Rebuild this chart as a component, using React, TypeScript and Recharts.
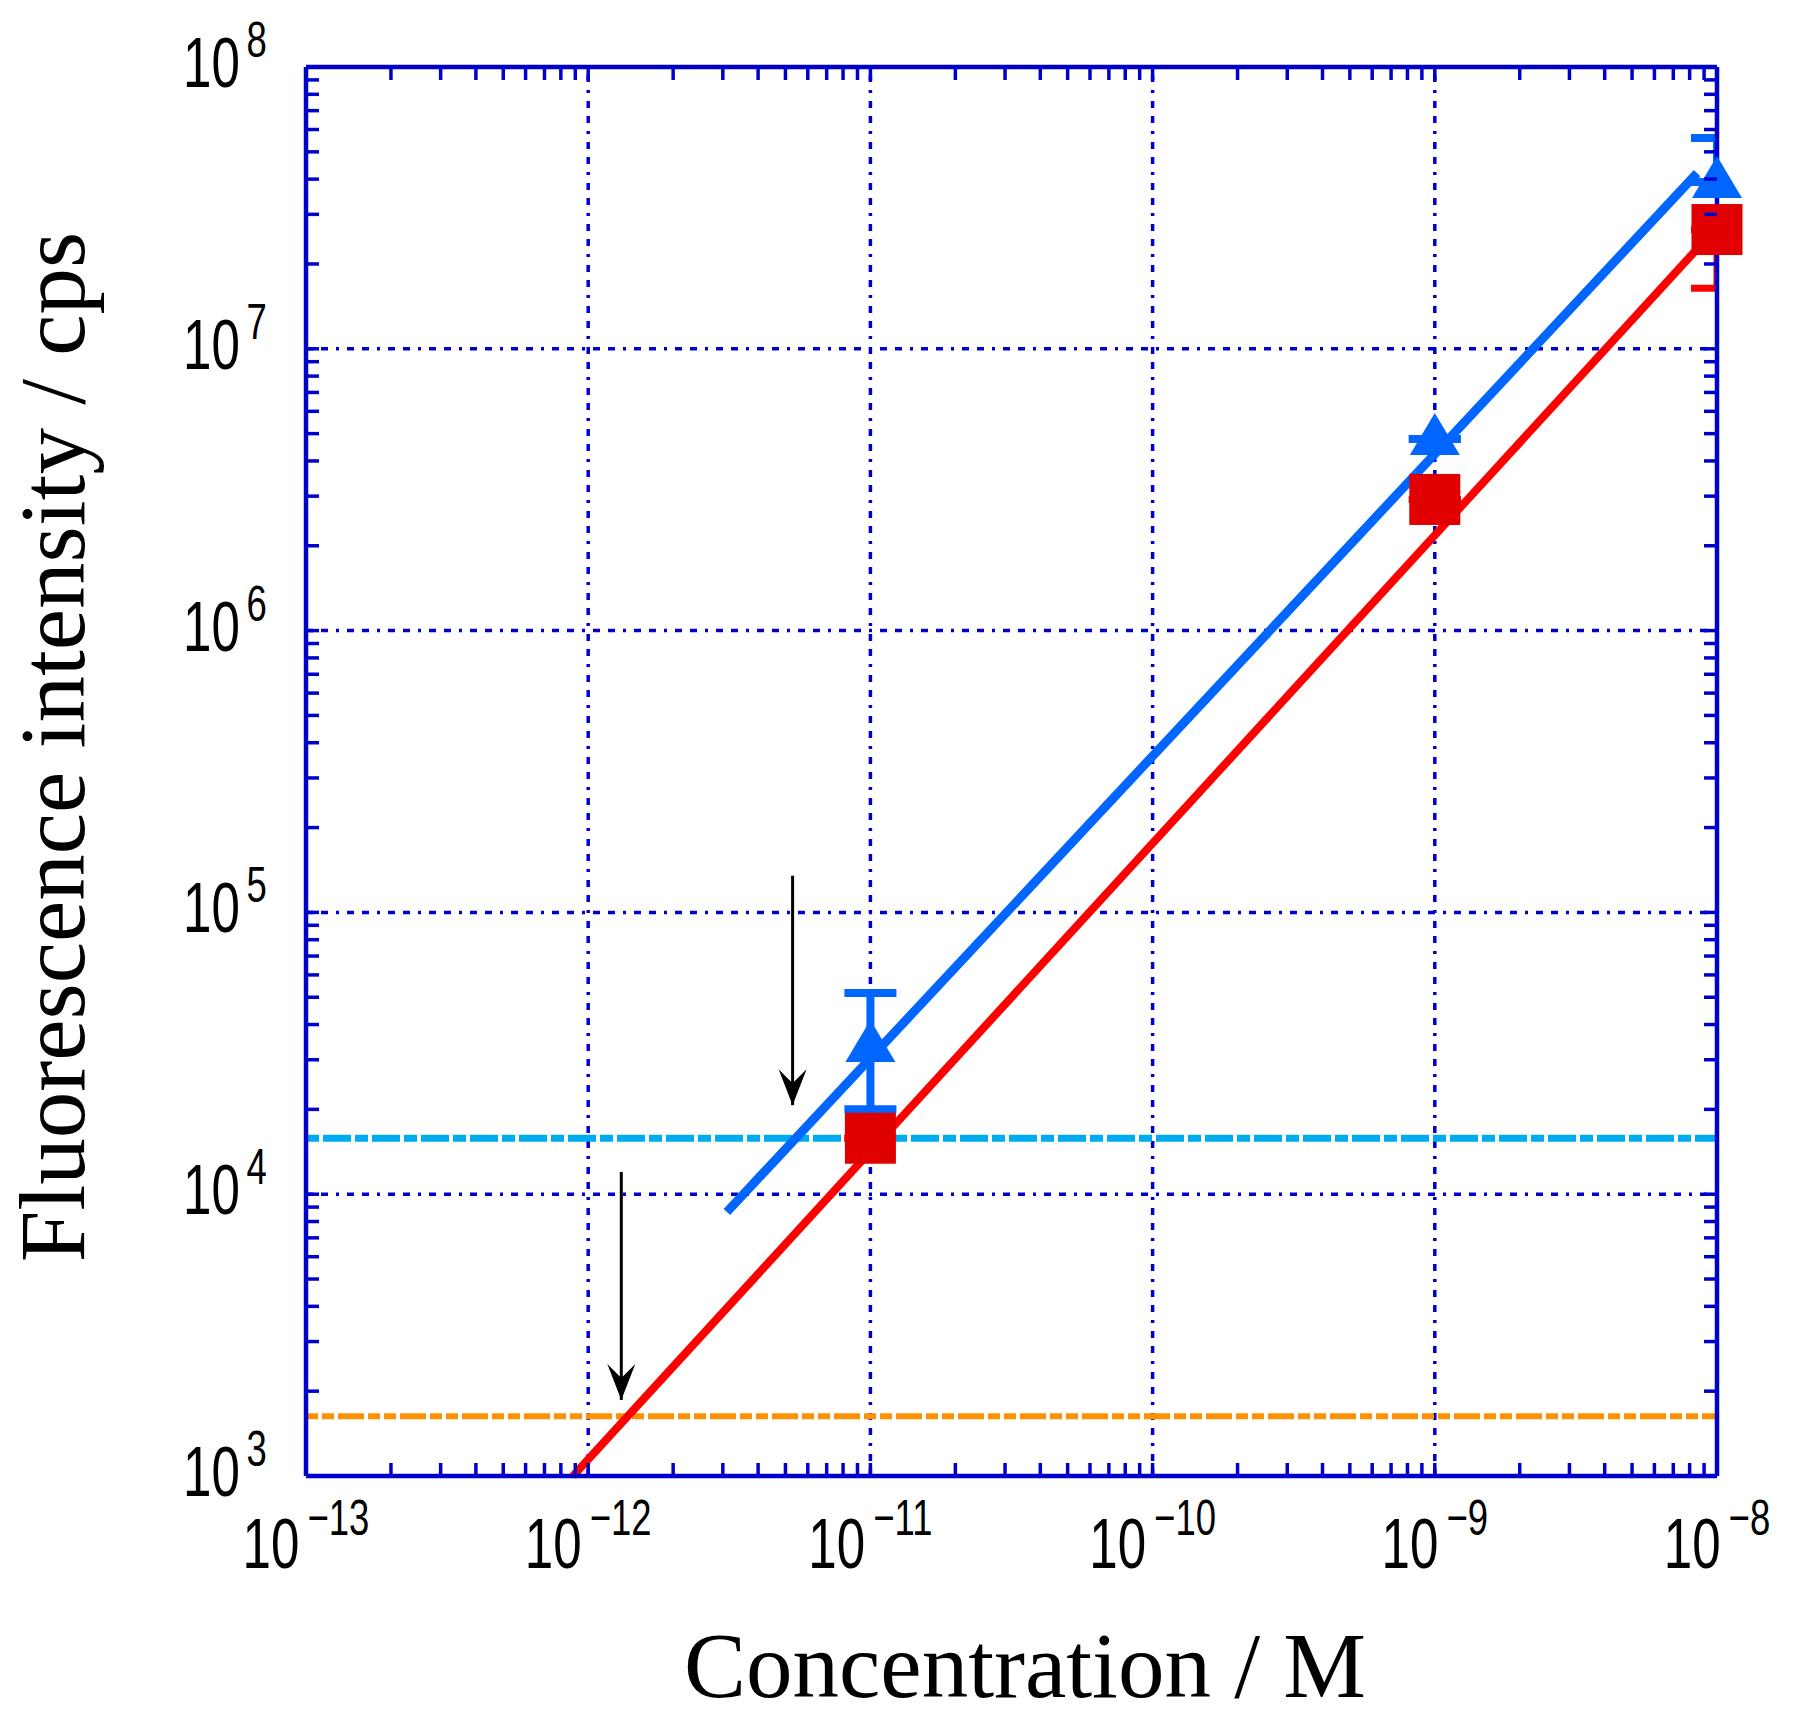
import React from 'react';
import * as Recharts from 'recharts';
import { ComposedChart, XAxis, YAxis, Scatter, Line, ReferenceLine, ErrorBar } from 'recharts';

// measured points (concentration in M, intensity in cps)
const concentration = [1e-11, 1e-9, 1e-8];
const blueIntensity = [3.36e4, 4.79e6, 3.91e7];
const blueLow = [2.0e4, 4.79e6, 3.91e7];
const blueHigh = [5.18e4, 4.79e6, 5.6e7];
const redIntensity = [1.58e4, 2.92e6, 2.65e7];
const redLow = [1.58e4, 2.92e6, 1.64e7];
const redHigh = [1.58e4, 2.92e6, 2.65e7];

// fitted lines
const blueFitX = [3.1e-12, 8.5e-9];
const blueFitY = [8.65e3, 4.2e7];
const redFitX = [8.83e-13, 1e-8];
const redFitY = [1e3, 2.7e7];

// detection limits
const blueLimit = 1.58e4;
const redLimit = 1.63e3;

// arrows pointing at the limits
const arrowX = [5.3e-12, 1.31e-12];
const arrowTop = [1.35e5, 1.2e4];
const arrowTip = [2.07e4, 1.86e3];

// axes
const xMajor = [1e-13, 1e-12, 1e-11, 1e-10, 1e-9, 1e-8];
const xExponents = ['\u221213', '\u221212', '\u221211', '\u221210', '\u22129', '\u22128'];
const yMajor = [1e3, 1e4, 1e5, 1e6, 1e7, 1e8];
const yExponents = ['3', '4', '5', '6', '7', '8'];
const minorSteps = [2, 3, 4, 5, 6, 7, 8, 9];

const FRAME = '#0000cc';
const BLUE = '#0066ff';
const RED = '#ff0000';
const SQUARE = '#e00000';
const CYAN = '#00aaee';
const ORANGE = '#ff9000';
const TICK_LEN = 13;
const SQUEEZE = 0.73;
const LABEL_FONT = "'Liberation Sans', Arial, sans-serif";
const TITLE_FONT = "'Liberation Serif', 'DejaVu Serif', serif";

const usePlotArea: undefined | (() => any) = (Recharts as any).usePlotArea;

const withMinor = (majors: number[]) => {
  const out: number[] = [];
  majors.forEach((m, i) => {
    out.push(m);
    if (i < majors.length - 1) minorSteps.forEach((s) => out.push(m * s));
  });
  return out;
};
const xTicks = withMinor(xMajor);
const yTicks = withMinor(yMajor);

const majorIndex = (v: number, majors: number[]) => majors.findIndex((m) => Math.abs(v / m - 1) < 1e-6);

const blueData = concentration.map((x, i) => ({
  x,
  y: blueIntensity[i],
  err: [blueIntensity[i] - blueLow[i], blueHigh[i] - blueIntensity[i]],
}));
const redData = concentration.map((x, i) => ({
  x,
  y: redIntensity[i],
  err: [redIntensity[i] - redLow[i], redHigh[i] - redIntensity[i]],
}));
const blueFit = blueFitX.map((x, i) => ({ x, y: blueFitY[i] }));
const redFit = redFitX.map((x, i) => ({ x, y: redFitY[i] }));
const arrowShafts = arrowX.map((x, i) => [
  { x, y: arrowTop[i] },
  { x, y: arrowTip[i] },
]);
const arrowTips = arrowX.map((x, i) => ({ x, y: arrowTip[i] }));

function BottomTick({ x, y, payload }: any) {
  const idx = majorIndex(payload.value, xMajor);
  return (
    <g>
      <line x1={x} y1={y} x2={x} y2={y - TICK_LEN} stroke={FRAME} strokeWidth={3.5} />
      {idx >= 0 && (
        <g transform={`translate(${x},${y + 92}) scale(${SQUEEZE},1)`}>
          <text x={0} y={0} textAnchor="middle" fontFamily={LABEL_FONT} fontSize={70} fill="#000">
            10
            <tspan dx={11} dy={-33} fontSize={50}>
              {xExponents[idx]}
            </tspan>
          </text>
        </g>
      )}
    </g>
  );
}

function TopTick({ x, y }: any) {
  return <line x1={x} y1={y} x2={x} y2={y + TICK_LEN} stroke={FRAME} strokeWidth={3.5} />;
}

function LeftTick({ x, y, payload }: any) {
  const idx = majorIndex(payload.value, yMajor);
  return (
    <g>
      <line x1={x} y1={y} x2={x + TICK_LEN} y2={y} stroke={FRAME} strokeWidth={3.5} />
      {idx >= 0 && (
        <g transform={`translate(183,${y + 20}) scale(${SQUEEZE},1)`}>
          <text x={0} y={0} textAnchor="start" fontFamily={LABEL_FONT} fontSize={70} fill="#000">
            10
            <tspan dx={9} dy={-30} fontSize={50}>
              {yExponents[idx]}
            </tspan>
          </text>
        </g>
      )}
    </g>
  );
}

function RightTick({ x, y }: any) {
  return <line x1={x} y1={y} x2={x - TICK_LEN} y2={y} stroke={FRAME} strokeWidth={3.5} />;
}

function TriangleMark({ cx, cy }: any) {
  if (cx == null || cy == null) return null;
  return <polygon points={`${cx},${cy - 26} ${cx - 25},${cy + 16} ${cx + 25},${cy + 16}`} fill={BLUE} />;
}

function SquareMark({ cx, cy }: any) {
  if (cx == null || cy == null) return null;
  return <rect x={cx - 25.5} y={cy - 25.5} width={51} height={51} fill={SQUARE} />;
}

function ArrowHead({ cx, cy }: any) {
  if (cx == null || cy == null) return null;
  return (
    <polygon
      points={`${cx},${cy} ${cx - 14},${cy - 36} ${cx},${cy - 22} ${cx + 14},${cy - 36}`}
      fill="#000"
    />
  );
}

// clip region = the plot frame, taken from the chart itself
function PlotClipInner() {
  const area = usePlotArea!();
  if (!area) return null;
  return (
    <defs>
      <clipPath id="plot-frame-clip">
        <rect x={area.x} y={area.y} width={area.width} height={area.height} />
      </clipPath>
    </defs>
  );
}
const PlotClip = () => (usePlotArea ? <PlotClipInner /> : null);
const errClip = usePlotArea ? 'url(#plot-frame-clip)' : undefined;

const noShape = () => <g />;
const gridDash = '7 8 7 8 3 8';

export default function App() {
  return (
    <div style={{ width: 1793, height: 1720, background: '#fff' }}>
      <style>{'body{margin:0}'}</style>
      <ComposedChart width={1793} height={1720} margin={{ top: 0, right: 0, bottom: 0, left: 0 }}>
        <PlotClip />
        {xMajor.slice(1, -1).map((v) => (
          <ReferenceLine
            key={`gx${v}`}
            x={v}
            xAxisId="b"
            yAxisId="l"
            stroke={FRAME}
            strokeWidth={3.5}
            strokeDasharray={gridDash}
          />
        ))}
        {yMajor.slice(1, -1).map((v) => (
          <ReferenceLine
            key={`gy${v}`}
            y={v}
            xAxisId="b"
            yAxisId="l"
            stroke={FRAME}
            strokeWidth={3.5}
            strokeDasharray={gridDash}
          />
        ))}

        <Scatter data={blueData} dataKey="y" xAxisId="b" yAxisId="l" shape={noShape} isAnimationActive={false}>
          <ErrorBar dataKey="err" direction="y" width={26} stroke={BLUE} strokeWidth={8} clipPath={errClip} isAnimationActive={false} />
        </Scatter>
        <Scatter data={redData} dataKey="y" xAxisId="b" yAxisId="l" shape={noShape} isAnimationActive={false}>
          <ErrorBar dataKey="err" direction="y" width={26} stroke={RED} strokeWidth={7} clipPath={errClip} isAnimationActive={false} />
        </Scatter>

        <XAxis
          xAxisId="b"
          dataKey="x"
          type="number"
          scale="log"
          domain={[1e-13, 1e-8]}
          ticks={xTicks}
          interval={0}
          tickSize={0}
          tickMargin={0}
          tickLine={false}
          tick={<BottomTick />}
          height={244}
          axisLine={{ stroke: FRAME, strokeWidth: 4.5 }}
        />
        <XAxis
          xAxisId="t"
          orientation="top"
          dataKey="x"
          type="number"
          scale="log"
          domain={[1e-13, 1e-8]}
          ticks={xTicks}
          interval={0}
          tickSize={0}
          tickMargin={0}
          tickLine={false}
          tick={<TopTick />}
          height={67}
          axisLine={{ stroke: FRAME, strokeWidth: 4.5 }}
        />
        <YAxis
          yAxisId="l"
          dataKey="y"
          type="number"
          scale="log"
          domain={[1e3, 1e8]}
          ticks={yTicks}
          interval={0}
          tickSize={0}
          tickMargin={0}
          tickLine={false}
          tick={<LeftTick />}
          width={306}
          axisLine={{ stroke: FRAME, strokeWidth: 4.5 }}
        />
        <YAxis
          yAxisId="r"
          orientation="right"
          dataKey="y"
          type="number"
          scale="log"
          domain={[1e3, 1e8]}
          ticks={yTicks}
          interval={0}
          tickSize={0}
          tickMargin={0}
          tickLine={false}
          tick={<RightTick />}
          width={76}
          axisLine={{ stroke: FRAME, strokeWidth: 4.5 }}
        />

        <ReferenceLine y={blueLimit} xAxisId="b" yAxisId="l" stroke={CYAN} strokeWidth={7} strokeDasharray="13 4 28 4" />
        <ReferenceLine y={redLimit} xAxisId="b" yAxisId="l" stroke={ORANGE} strokeWidth={6} strokeDasharray="12 4 12 4 26 4" />

        <Scatter data={redData} dataKey="y" xAxisId="t" yAxisId="r" shape={<SquareMark />} isAnimationActive={false} />
        <Scatter data={blueData} dataKey="y" xAxisId="t" yAxisId="r" shape={<TriangleMark />} isAnimationActive={false} />

        <Line data={blueFit} dataKey="y" xAxisId="t" yAxisId="r" type="linear" stroke={BLUE} strokeWidth={9} dot={false} activeDot={false} isAnimationActive={false} />
        <Line data={redFit} dataKey="y" xAxisId="t" yAxisId="r" type="linear" stroke={RED} strokeWidth={8} dot={false} activeDot={false} isAnimationActive={false} />

        {arrowShafts.map((d, i) => (
          <Line key={`as${i}`} data={d} dataKey="y" xAxisId="t" yAxisId="r" type="linear" stroke="#000" strokeWidth={3} dot={false} activeDot={false} isAnimationActive={false} />
        ))}
        <Scatter data={arrowTips} dataKey="y" xAxisId="t" yAxisId="r" shape={<ArrowHead />} isAnimationActive={false} />

        <text x={1025} y={1697} textAnchor="middle" fontFamily={TITLE_FONT} fontSize={93} fill="#000">
          Concentration / M
        </text>
        <text
          x={84}
          y={747}
          transform="rotate(-90 84 747)"
          textAnchor="middle"
          fontFamily={TITLE_FONT}
          fontSize={93}
          fill="#000"
        >
          Fluorescence intensity / cps
        </text>
      </ComposedChart>
    </div>
  );
}
